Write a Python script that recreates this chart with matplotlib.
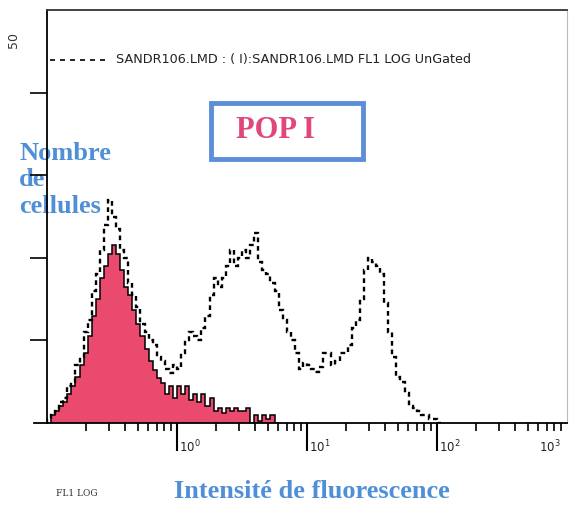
import numpy as np
import matplotlib
matplotlib.use("Agg")
import matplotlib.pyplot as plt
from matplotlib.patches import Rectangle
from matplotlib.transforms import blended_transform_factory

# ---- data: channel counts, 32 channels per decade starting at 10^-1 ----
ungated = [0.5, 1, 1.5, 2.5, 3, 4.5, 5, 7, 8, 11,
           12.5, 16, 18, 21, 24, 27, 25, 23.5, 21, 20,
           17, 15.5, 14, 12, 11, 10, 9.5, 8, 7.5, 6.5,
           6, 7, 6.5, 8.5, 10, 11, 10.5, 10, 11.5, 13,
           15.5, 17.5, 16.5, 17.5, 19, 21, 19, 20, 21, 20,
           21.5, 23, 19.5, 18.5, 18, 17, 16, 13.7, 12.5, 11,
           10, 8.5, 6.5, 7.3, 7, 6.5, 6.2, 6.8, 8.5, 8.5,
           7, 7.5, 8.5, 8.5, 9.5, 11.5, 12.5, 15, 18.5, 20,
           19.5, 19, 18, 14.5, 11, 8, 5.6, 5, 3.6, 2,
           1.8, 1.5, 1, 1, 0.5, 0.5, 0]
gated = [0, 1, 1.5, 2, 2.5, 3.5, 4.5, 5.6, 7, 8.5,
         10.5, 13, 15, 17.5, 19, 20.5, 21.5, 20.5, 18.5, 16.5,
         15.5, 13.7, 12, 10.5, 9, 7.5, 6.4, 5.5, 4.8, 3.5,
         4.5, 3, 4.5, 3.5, 4.5, 2.8, 3.5, 2.5, 3.5, 2,
         3, 1.5, 1.8, 1.2, 1.8, 1.5, 1.8, 1.5, 1.5, 1.8,
         0, 1, 0.3, 1, 0.5, 1, 0]
x_tick_labels = [r"$10^0$", r"$10^1$", r"$10^2$", r"$10^3$"]
legend_text = "SANDR106.LMD : ( I):SANDR106.LMD FL1 LOG UnGated"

W, H = 569, 507
fig = plt.figure(figsize=(W / 100, H / 100), dpi=100)
ax = fig.add_axes([47 / W, 1 - 423 / H, 520 / W, 413 / H])

per_dec = 32
edges_u = 10 ** (-1 + np.arange(len(ungated) + 1) / per_dec)
edges_g = 10 ** (-1 + np.arange(len(gated) + 1) / per_dec)

pink = "#e94a6e"
ax.stairs(gated, edges_g, fill=True, color=pink, lw=0, zorder=2)
ax.stairs(gated, edges_g, color="black", lw=1.1, zorder=3)
ax.stairs(ungated, edges_u, color="black", lw=1.7,
          linestyle=(0, (2.0, 1.6)), zorder=4)

ax.set_xscale("log")
ax.set_xlim(0.1, 1000)
ax.set_ylim(0, 50)

for s in ["left", "bottom", "top"]:
    ax.spines[s].set_color("black")
    ax.spines[s].set_linewidth(1.3)
ax.spines["top"].set_color("#333333")
ax.spines["right"].set_color("#bbbbbb")
ax.spines["right"].set_linewidth(0.8)

ax.set_yticks([10, 20, 30, 40])
ax.tick_params(axis="y", direction="out", length=12, width=1.2, labelleft=False)
ax.set_xticks([1, 10, 100])
ax.tick_params(axis="x", which="major", direction="out", length=20, width=1.5,
               labelbottom=False)
ax.tick_params(axis="x", which="minor", direction="out", length=6, width=1.2)

ax.plot([-0.025, 0], [0, 0], transform=ax.transAxes, color="black",
        lw=1.3, clip_on=False)

trans = blended_transform_factory(ax.transData, ax.transAxes)
for xv, lab in zip([1, 10, 100], x_tick_labels[:3]):
    ax.text(xv * 1.03, -0.058, lab, transform=trans, ha="left", va="center",
            fontsize=8.5, family="DejaVu Serif", color="#222222")
ax.text(10 ** 2.95, -0.058, x_tick_labels[3], transform=trans, ha="right",
        va="center", fontsize=8.5, family="DejaVu Serif", color="#222222")

def fx(x):
    return x / W

def fy(y):
    return 1 - y / H

fig.text(fx(13), fy(40), "50", rotation=90, ha="center", va="center",
         fontsize=9, color="#333333")

ax.plot([fx(50), fx(108)], [fy(60), fy(60)], transform=fig.transFigure,
        color="black", lw=1.2, linestyle=(0, (3, 3)), clip_on=False)
fig.text(fx(116), fy(60), legend_text, ha="left", va="center", fontsize=9.2,
         family="DejaVu Sans", color="#222222")

box = Rectangle((fx(211), fy(159)), (363 - 211) / W, (159 - 103) / H,
                transform=fig.transFigure, fill=False, edgecolor="#5d8fd9",
                lw=3.5)
fig.add_artist(box)
fig.text(fx(275), fy(131), "POP I", ha="center", va="center", fontsize=22,
         family="Liberation Serif", weight="bold", color="#e0487a")

blue = "#4f8fd6"
ax.text(fx(19), fy(180), "Nombre\nde\ncellules", ha="left", va="center",
        fontsize=19, family="Liberation Serif", weight="bold", color=blue,
        linespacing=1.2, transform=fig.transFigure, clip_on=False, zorder=1)
fig.text(fx(312), fy(491), "Intensité de fluorescence", ha="center",
         va="center", fontsize=19, family="Liberation Serif", weight="bold",
         color=blue)
fig.text(fx(77), fy(493), "FL1 LOG", ha="center", va="center", fontsize=6.5,
         family="DejaVu Serif", color="#333333")

fig.savefig("out.png", dpi=100)
